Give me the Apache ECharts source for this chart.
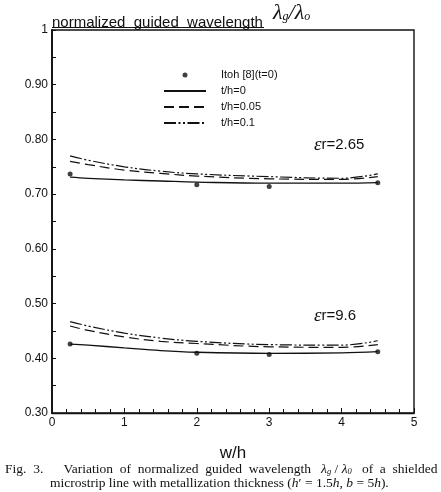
<!DOCTYPE html>
<html><head><meta charset="utf-8">
<script src="https://cdn.jsdelivr.net/npm/echarts@6/dist/echarts.min.js"></script>
<style>html,body{margin:0;padding:0;background:#fff}#c{width:441px;height:492px}</style>
</head><body><div id="c"></div>
<script>
// ---- data ----
const xs = [0.25, 0.5, 1, 1.5, 2, 3, 4, 4.5];
const er265_t0    = [0.731, 0.729, 0.726, 0.724, 0.722, 0.720, 0.720, 0.721];
const er265_t005  = [0.760, 0.754, 0.744, 0.738, 0.733, 0.728, 0.727, 0.732];
const er265_t01   = [0.770, 0.762, 0.750, 0.742, 0.737, 0.732, 0.729, 0.737];
const er96_t0     = [0.426, 0.424, 0.419, 0.414, 0.411, 0.409, 0.410, 0.412];
const er96_t005   = [0.459, 0.451, 0.439, 0.431, 0.427, 0.421, 0.420, 0.425];
const er96_t01    = [0.467, 0.459, 0.446, 0.437, 0.431, 0.425, 0.424, 0.432];
const itohX       = [0.25, 2, 3, 4.5];
const itoh265     = [0.737, 0.717, 0.714, 0.721];
const itoh96      = [0.426, 0.409, 0.407, 0.412];
const yTicks = {1: '1', 0.9: '0.90', 0.8: '0.80', 0.7: '0.70', 0.6: '0.60', 0.5: '0.50', 0.4: '0.40', 0.3: '0.30'};
const names = ['Itoh [8](t=0)', 't/h=0', 't/h=0.05', 't/h=0.1'];

const pair = (x, y) => x.map((v, i) => [v, y[i]]);
const styles = {
  't/h=0': {type: 'solid', width: 1.3},
  't/h=0.05': {type: [10, 5], width: 1.2},
  't/h=0.1': {type: [12, 2.5, 2, 2.5, 2, 2.5], width: 1.2}
};
function lineSeries(name, ys) {
  return {name, type: 'line', data: pair(xs, ys), smooth: 0.4, symbol: 'none',
    lineStyle: Object.assign({color: '#111'}, styles[name]), itemStyle: {color: '#111'}, z: 3};
}
const series = [
  {name: names[0], type: 'scatter', data: pair(itohX, itoh265), symbol: 'circle', symbolSize: 5, itemStyle: {color: '#111'}, z: 5},
  {name: names[0], type: 'scatter', data: pair(itohX, itoh96), symbol: 'circle', symbolSize: 5, itemStyle: {color: '#111'}, z: 5},
  lineSeries(names[1], er265_t0), lineSeries(names[2], er265_t005), lineSeries(names[3], er265_t01),
  lineSeries(names[1], er96_t0), lineSeries(names[2], er96_t005), lineSeries(names[3], er96_t01)
];

const chart = echarts.init(document.getElementById('c'), null, {renderer: 'canvas'});
const sans = 'Liberation Sans, Arial, sans-serif';
const serif = 'Liberation Serif, Times New Roman, serif';
const capFont = '13.5px ' + serif;
chart.setOption({
  animation: false,
  backgroundColor: '#fff',
  grid: {left: 52, right: 27, top: 30, bottom: 79, show: true, borderColor: '#111', borderWidth: 1.4, backgroundColor: 'transparent'},
  legend: {
    data: names.map((n, i) => i === 0 ? {name: n} : {name: n, itemStyle: {opacity: 0}}),
    orient: 'vertical', left: 163, top: 69, itemWidth: 42, itemHeight: 5, itemGap: 4,
    textStyle: {fontFamily: sans, fontSize: 11, color: '#111', lineHeight: 12, padding: [0, 0, 0, 10]},
    selectedMode: false, padding: 0
  },
  xAxis: {
    type: 'value', min: 0, max: 5, interval: 1,
    name: 'w/h', nameLocation: 'middle', nameGap: 32,
    nameTextStyle: {fontFamily: sans, fontSize: 17, color: '#111'},
    axisLine: {lineStyle: {color: '#111', width: 1.4}},
    axisTick: {inside: true, length: 5, lineStyle: {color: '#111'}},
    minorTick: {show: true, splitNumber: 5, length: 4, lineStyle: {color: '#111'}},
    axisLabel: {fontFamily: sans, fontSize: 12, color: '#111', margin: 4},
    splitLine: {show: false}
  },
  yAxis: {
    type: 'value', min: 0.3, max: 1, interval: 0.1,
    axisLine: {show: true, lineStyle: {color: '#111', width: 1.8}},
    axisTick: {inside: true, length: 4, lineStyle: {color: '#111'}},
    minorTick: {show: true, splitNumber: 2, length: 4, lineStyle: {color: '#111'}},
    axisLabel: {fontFamily: sans, fontSize: 12, color: '#111', margin: 4,
      formatter: v => yTicks[Math.round(v * 10) / 10] || ''},
    splitLine: {show: false}
  },
  series,
  graphic: [
    {type: 'text', left: 52, top: 15, style: {text: 'normalized  guided  wavelength', font: '15px ' + sans, fill: '#111'}},
    {type: 'line', shape: {x1: 52, y1: 27.5, x2: 264, y2: 27.5}, style: {stroke: '#111', lineWidth: 1}},
    {type: 'text', left: 273, top: 2, style: {
      text: '{l|λ}{s|g}{l|/λ}{s|o}',
      rich: {l: {font: 'italic 22px ' + serif, fill: '#111'}, s: {font: 'italic 12px ' + serif, fill: '#111', padding: [8, 0, 0, 0]}}
    }},
    {type: 'text', left: 314, top: 135, style: {text: '{e|ε}{t|r=2.65}', rich: {e: {font: 'italic 19px ' + serif, fill: '#111'}, t: {font: '15px ' + sans, fill: '#111'}}}},
    {type: 'text', left: 314, top: 306, style: {text: '{e|ε}{t|r=9.6}', rich: {e: {font: 'italic 19px ' + serif, fill: '#111'}, t: {font: '15px ' + sans, fill: '#111'}}}},
    {type: 'text', left: 5, top: 462, style: {
      text: '{t|Fig.  3.      Variation  of  normalized  guided  wavelength   }{i|λ}{b|g}{t| / }{i|λ}{b|0}{t|   of  a  shielded}',
      rich: {t: {font: capFont, fill: '#111'}, i: {font: 'italic ' + capFont, fill: '#111'}, b: {font: 'italic 8.5px ' + serif, fill: '#111', padding: [5, 0, 0, 0]}}
    }},
    {type: 'text', left: 50, top: 476, style: {
      text: '{t|microstrip line with metallization thickness (}{i|h}{t|′ = 1.5}{i|h}{t|, }{i|b}{t| = 5}{i|h}{t|).}',
      rich: {t: {font: capFont, fill: '#111'}, i: {font: 'italic ' + capFont, fill: '#111'}}
    }}
  ]
});
</script></body></html>
